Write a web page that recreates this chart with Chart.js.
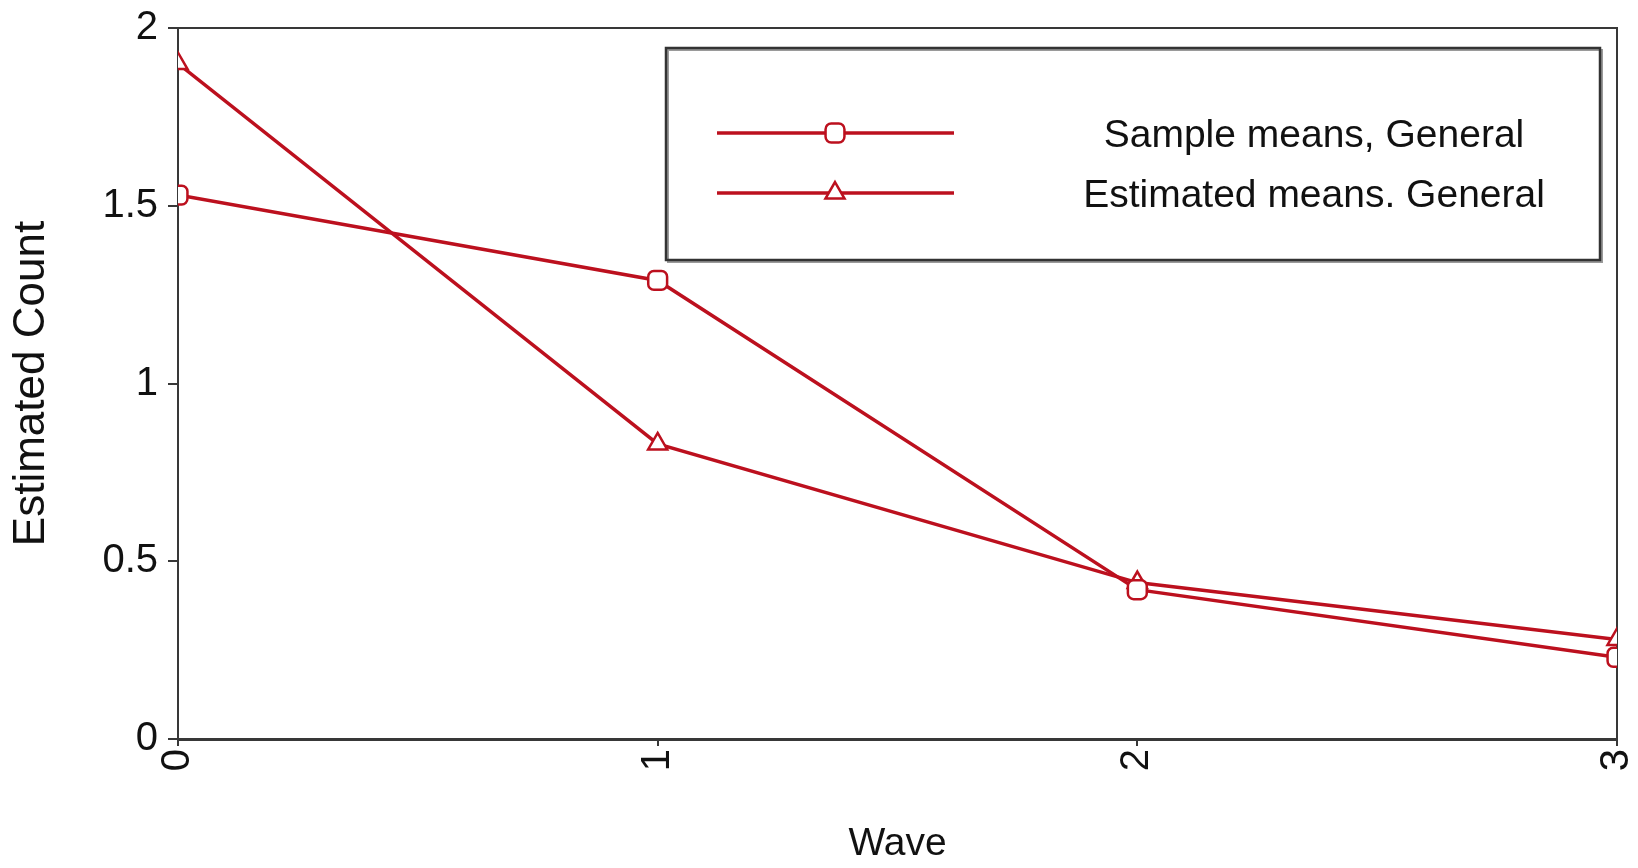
<!DOCTYPE html>
<html>
<head>
<meta charset="utf-8">
<style>
  html, body { margin: 0; padding: 0; background: #ffffff; }
  #wrap { width: 1638px; height: 868px; position: relative; }
  canvas { display: block; }
</style>
<script src="https://cdn.jsdelivr.net/npm/chart.js@4"></script>
</head>
<body>
<div id="wrap"><canvas id="c" width="1638" height="868"></canvas></div>
<script>
// ---------- data ----------
const waves = ['0', '1', '2', '3'];
const seriesNames = ['Sample means, General', 'Estimated means. General'];
const sampleMeans = [1.53, 1.29, 0.42, 0.23];
const estimatedMeans = [1.90, 0.83, 0.44, 0.28];
const yTickValues = [0, 0.5, 1, 1.5, 2];
const yTickLabels = ['0', '0.5', '1', '1.5', '2'];
const xAxisTitle = 'Wave';
const yAxisTitle = 'Estimated Count';

// ---------- styles ----------
const FONT = '"Liberation Sans", Arial, sans-serif';
const RED = '#bc101e';
const AXIS = '#383838';
const TEXT = '#111111';

Chart.defaults.font.family = FONT;
Chart.defaults.color = TEXT;

const framePlugin = {
  id: 'frame',
  beforeDatasetsDraw(chart) {
    const { ctx, chartArea: a } = chart;
    ctx.save();
    ctx.strokeStyle = AXIS;
    ctx.lineWidth = 2;
    ctx.beginPath();
    ctx.moveTo(a.left, a.top);
    ctx.lineTo(a.right, a.top);
    ctx.lineTo(a.right, a.bottom);
    ctx.stroke();
    ctx.restore();
  }
};

const boxLegend = {
  id: 'boxLegend',
  afterDraw(chart) {
    const ctx = chart.ctx;
    const box = { x: 666, y: 48, w: 934, h: 212 };
    const rows = [133, 193];
    ctx.save();
    ctx.fillStyle = '#ffffff';
    ctx.fillRect(box.x, box.y, box.w, box.h);
    ctx.strokeStyle = '#9a9a9a';
    ctx.lineWidth = 2;
    ctx.strokeRect(box.x + 2, box.y + 2, box.w, box.h);
    ctx.strokeStyle = '#333333';
    ctx.lineWidth = 2.5;
    ctx.strokeRect(box.x, box.y, box.w, box.h);
    chart.data.datasets.forEach((ds, i) => {
      const y = rows[i];
      ctx.strokeStyle = ds.borderColor;
      ctx.lineWidth = ds.borderWidth;
      ctx.beginPath();
      ctx.moveTo(717, y);
      ctx.lineTo(954, y);
      ctx.stroke();
      ctx.fillStyle = ds.pointBackgroundColor;
      ctx.strokeStyle = ds.pointBorderColor;
      ctx.lineWidth = ds.pointBorderWidth;
      Chart.helpers.drawPoint(ctx, {
        pointStyle: ds.pointStyle,
        radius: ds.pointRadius,
        borderWidth: ds.pointBorderWidth,
        rotation: 0
      }, 835, y);
      ctx.fillStyle = TEXT;
      ctx.font = '39px ' + FONT;
      ctx.textAlign = 'center';
      ctx.textBaseline = 'middle';
      ctx.fillText(ds.label, 1314, y + 3);
    });
    ctx.restore();
  }
};

const chart = new Chart(document.getElementById('c'), {
  type: 'line',
  data: {
    labels: waves,
    datasets: [
      {
        label: seriesNames[0],
        data: sampleMeans,
        borderColor: RED,
        borderWidth: 3.5,
        pointStyle: 'rectRounded',
        pointRadius: 11,
        pointBorderWidth: 2.5,
        pointBorderColor: RED,
        pointBackgroundColor: '#ffffff',
        tension: 0,
        clip: 0
      },
      {
        label: seriesNames[1],
        data: estimatedMeans,
        borderColor: RED,
        borderWidth: 3.5,
        pointStyle: 'triangle',
        pointRadius: 11,
        pointBorderWidth: 2.5,
        pointBorderColor: RED,
        pointBackgroundColor: '#ffffff',
        tension: 0,
        clip: 0
      }
    ]
  },
  options: {
    responsive: false,
    animation: false,
    events: [],
    layout: { padding: { left: 0, right: 21, top: 28, bottom: 0 } },
    plugins: {
      legend: { display: false },
      tooltip: { enabled: false },
      title: { display: false }
    },
    scales: {
      x: {
        type: 'category',
        offset: false,
        grid: { display: true, drawOnChartArea: false, drawTicks: true, tickLength: 7, color: AXIS, lineWidth: 2 },
        border: { display: true, color: AXIS, width: 3 },
        ticks: {
          minRotation: 90, maxRotation: 90, padding: 3,
          font: { size: 40 }, color: TEXT, autoSkip: false
        },
        title: {
          display: true, text: xAxisTitle,
          font: { size: 39 }, color: TEXT,
          padding: { top: 0, bottom: 0 }
        },
        afterFit(s) { s.height = 129; s.paddingLeft = 0; s.paddingRight = 0; }
      },
      y: {
        type: 'linear',
        min: 0, max: 2,
        afterBuildTicks(s) { s.ticks = yTickValues.map(v => ({ value: v })); },
        grid: { display: true, drawOnChartArea: false, drawTicks: true, tickLength: 10, color: AXIS, lineWidth: 2 },
        border: { display: true, color: AXIS, width: 2 },
        ticks: {
          padding: 10,
          font: { size: 40 }, color: TEXT,
          callback(value) {
            const i = yTickValues.indexOf(value);
            return i >= 0 ? yTickLabels[i] : '';
          }
        },
        title: {
          display: true, text: yAxisTitle,
          font: { size: 44 }, color: TEXT,
          padding: { top: 5, bottom: 0 }
        },
        afterFit(s) { s.width = 178; s.paddingTop = 0; s.paddingBottom = 0; }
      }
    }
  },
  plugins: [framePlugin, boxLegend]
});
</script>
</body>
</html>
